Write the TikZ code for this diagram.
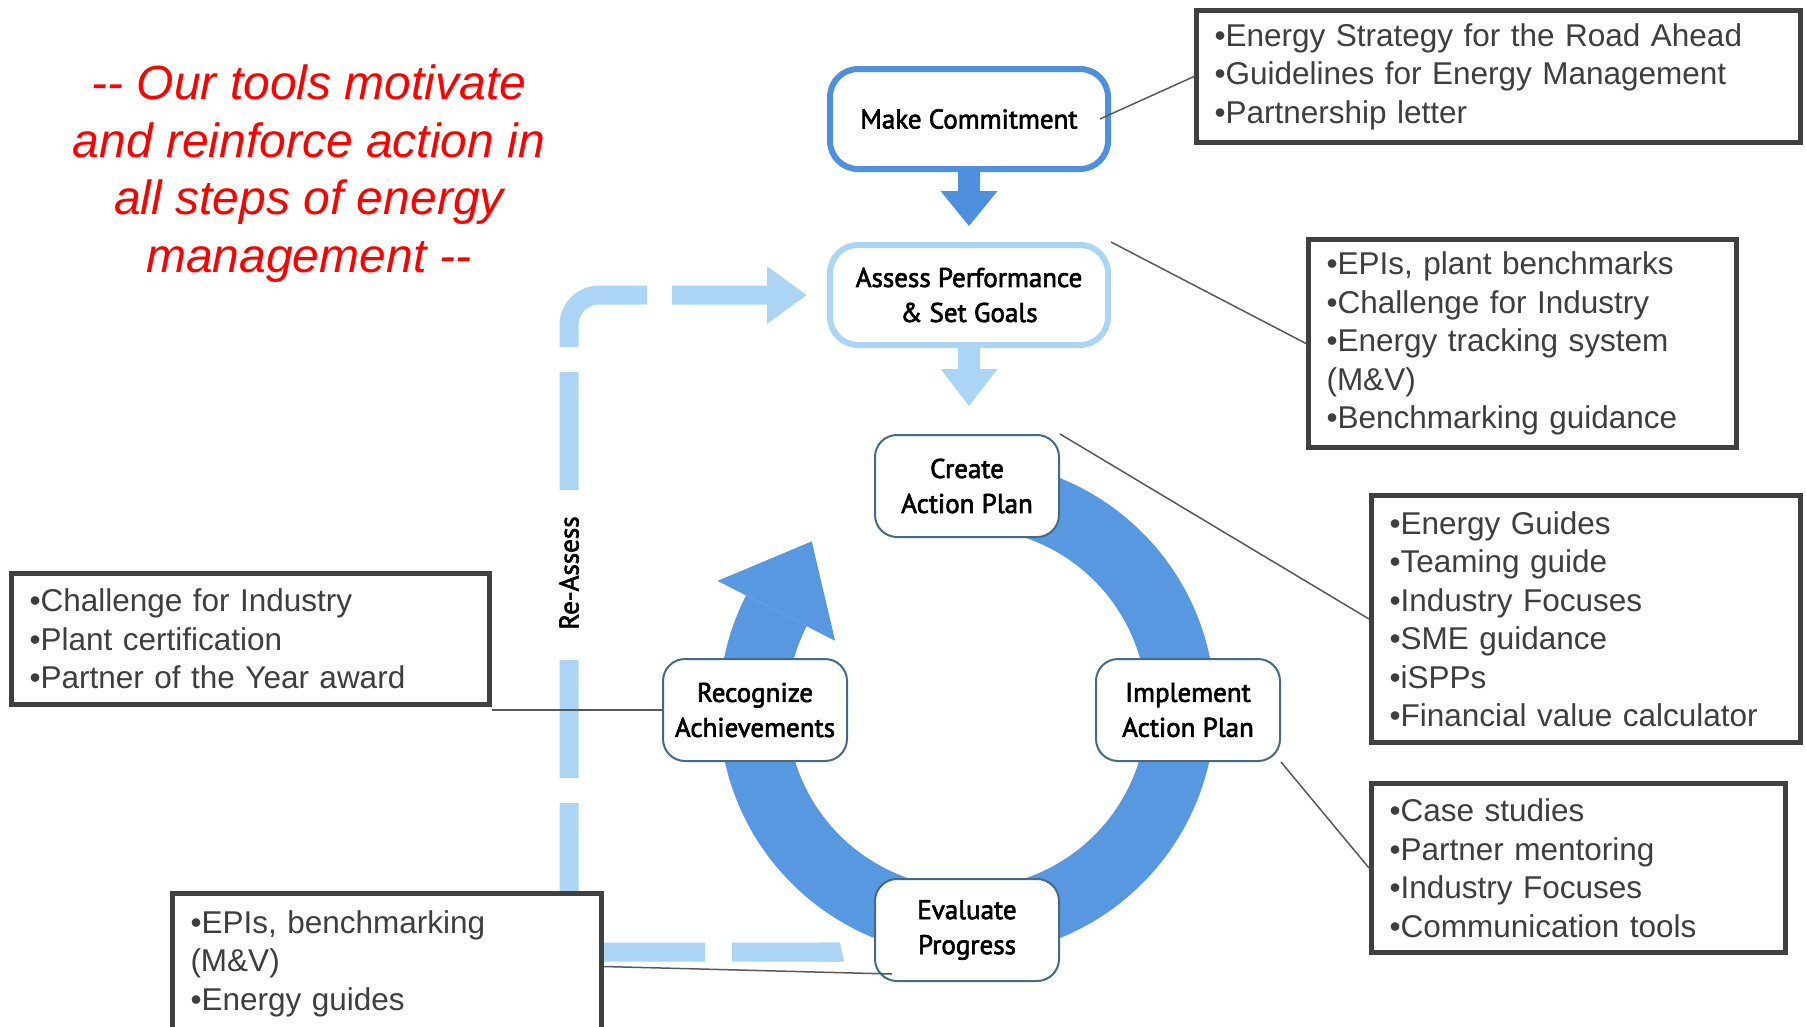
\documentclass[tikz,border=0pt]{standalone}
\usepackage{fontspec}
\usepackage{tikz}
\usetikzlibrary{positioning, arrows.meta}
\newfontfamily\boxfont{Liberation Sans}
\newfontfamily\stepfont[FakeBold=2.4]{PT Sans}
\definecolor{ringblue}{RGB}{88,152,224}
\definecolor{midblue}{RGB}{78,143,222}
\definecolor{paleblue}{RGB}{172,212,245}
\definecolor{stepedge}{RGB}{70,105,135}
\definecolor{boxgray}{RGB}{64,64,64}
\definecolor{tooltext}{RGB}{62,62,62}
\definecolor{linkgray}{RGB}{88,88,88}
\tikzstyle{stepbox} = [rectangle, rounded corners=22pt, minimum width=184pt, minimum height=102pt, align=center, draw=stepedge, line width=2pt, fill=white, text=black, font=\stepfont\fontsize{27}{35}\selectfont, inner sep=4pt]
\tikzstyle{bigstep} = [stepbox, rounded corners=28pt, minimum width=278pt, minimum height=100pt, line width=6pt]
\tikzstyle{toolbox} = [rectangle, draw=boxgray, line width=5pt, fill=white, text=tooltext, align=left, anchor=north west, inner xsep=18pt, font=\boxfont\fontsize{31.5}{38.5}\selectfont]
\tikzstyle{link} = [draw=linkgray, line width=1.5pt]
\tikzstyle{reassess} = [draw=paleblue, line width=19pt, rounded corners=30pt, dash pattern=on 108pt off 27pt on 272pt off 25pt on 118pt off 170pt on 118pt off 25pt on 117pt off 25pt on 300pt, -{Triangle[length=40pt,width=55pt]}]

\begin{document}
\begin{tikzpicture}[x=1pt, y=1pt]
	\clip (0,0) rectangle (1806,-1026);

	\node(motto) [font=\boxfont\itshape\fontsize{48}{57.5}\selectfont, text=red, align=center] at (309,-173.5) {-- Our tools motivate\\and reinforce action in\\all steps of energy\\management --};

	% main steps
	\node(commit) [bigstep, draw=midblue] at (969,-119) {Make Commitment};
	\node(assess) [bigstep, draw=paleblue, below=70pt of commit] {Assess Performance\\\& Set Goals};

	\fill[midblue] ([xshift=-11pt]commit.south) -- ++(0,-19) -- ++(-17.5,0) -- ++(28.5,-35) -- ++(28.5,35) -- ++(-17.5,0) -- ++(0,19) -- cycle;
	\fill[paleblue] ([xshift=-11pt]assess.south) -- ++(0,-21) -- ++(-17.5,0) -- ++(28.5,-37) -- ++(28.5,37) -- ++(-17.5,0) -- ++(0,21) -- cycle;

	% cycle
	\coordinate (hub) at (967,-708);
	\begin{scope}[shift={(hub)}]
		\fill[ringblue] (95:248) arc[start angle=95, end angle=-207, radius=248] -- (-207:180) arc[start angle=-207, end angle=95, radius=180] -- cycle;
		\fill[ringblue] (153:148) -- (153:280) -- ([shift={(63:78)}]153:214) -- cycle;
	\end{scope}

	\node(create) [stepbox] at ([yshift=222pt]hub) {Create\\Action Plan};
	\node(implement) [stepbox] at ([xshift=221pt,yshift=-2pt]hub) {Implement\\Action Plan};
	\node(evaluate) [stepbox] at ([yshift=-222pt]hub) {Evaluate\\Progress};
	\node(recognize) [stepbox] at ([xshift=-212pt,yshift=-2pt]hub) {Recognize\\Achievements};

	% re-assess loop
	\node(relabel) [font=\stepfont\fontsize{27}{35}\selectfont, rotate=90] at (569,-573) {Re-Assess};
	\coordinate (loopstart) at (840,-952);
	\draw[reassess] (loopstart) -- (loopstart -| relabel) -- (relabel |- assess.west) -- ([xshift=-20pt]assess.west);
	\fill[paleblue] (loopstart) ++(0,9.5) -- ++(-20,0) -- ++(0,-19) -- ++(24,0) -- cycle;

	% tool boxes
	\node(commitTools) [toolbox, text width=568pt, minimum height=132pt] at (1194,-8) {•Energy Strategy for the Road Ahead\\•Guidelines for Energy Management\\•Partnership letter};
	\node(assessTools) [toolbox, text width=392pt, minimum height=208pt] at (1306,-237) {•EPIs, plant benchmarks\\•Challenge for Industry\\•Energy tracking system\\(M\&V)\\•Benchmarking guidance};
	\node(planTools) [toolbox, text width=393pt, minimum height=247pt] at (1369,-493) {•Energy Guides\\•Teaming guide\\•Industry Focuses\\•SME guidance\\•iSPPs\\•Financial value calculator};
	\node(implTools) [toolbox, text width=378pt, minimum height=169pt] at (1369,-781) {•Case studies\\•Partner mentoring\\•Industry Focuses\\•Communication tools};
	\node(recogTools) [toolbox, text width=442pt, minimum height=131pt] at (9,-571) {•Challenge for Industry\\•Plant certification\\•Partner of the Year award};
	\node(evalTools) [toolbox, text width=393pt, minimum height=140pt] at (170,-891) {•EPIs, benchmarking\\(M\&V)\\•Energy guides};

	\draw[link] ([xshift=-11pt]commit.east) -- (commitTools.west);
	\draw[link] (assess.north east) -- (assessTools.west);
	\draw[link] (create.north east) -- (planTools.west);
	\draw[link] (implement.south east) -- (implTools.west);
	\draw[link] (recognize.west) -- (recognize.west -| recogTools.east);
	\draw[link] ([shift={(18pt,8pt)}]evaluate.south west) -- ([yshift=-3pt]evalTools.east);
\end{tikzpicture}
\end{document}
